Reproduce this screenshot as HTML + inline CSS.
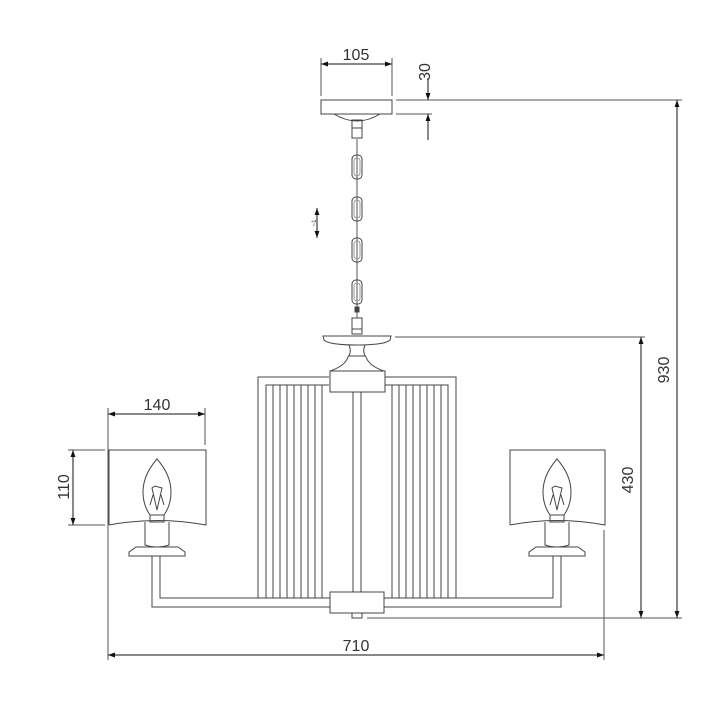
<!DOCTYPE html>
<html><head><meta charset="utf-8"><style>
html,body{margin:0;padding:0;background:#fff;}
svg{display:block;}
text{font-family:"Liberation Sans","DejaVu Sans",sans-serif;fill:#333;}
</style></head><body>
<svg width="720" height="720" viewBox="0 0 720 720" xmlns="http://www.w3.org/2000/svg">
<defs>
<marker id="a" viewBox="0 0 10 10" refX="10" refY="5" markerWidth="10" markerHeight="7" orient="auto-start-reverse" markerUnits="userSpaceOnUse"><path d="M0,1.5 L10,5 L0,8.5 Z" fill="#111"/></marker>
</defs>
<g fill="none" stroke="#555" stroke-width="1">
<line x1="321" y1="58" x2="321" y2="96"/><line x1="392" y1="58" x2="392" y2="96"/>
<line x1="321" y1="64" x2="392" y2="64" stroke="#111" marker-start="url(#a)" marker-end="url(#a)"/>
<line x1="396" y1="100" x2="682" y2="100"/>
<line x1="396" y1="114" x2="432" y2="114"/>
<line x1="428" y1="80" x2="428" y2="100" stroke="#111" marker-end="url(#a)"/>
<line x1="428" y1="140" x2="428" y2="114" stroke="#111" marker-end="url(#a)"/>
<line x1="395" y1="337" x2="645" y2="337"/>
<line x1="367" y1="618" x2="682" y2="618"/>
<line x1="677" y1="100" x2="677" y2="618" stroke="#111" marker-start="url(#a)" marker-end="url(#a)"/>
<line x1="641" y1="337" x2="641" y2="618" stroke="#111" marker-start="url(#a)" marker-end="url(#a)"/>
<line x1="108" y1="408" x2="108" y2="660"/><line x1="604" y1="530" x2="604" y2="660"/>
<line x1="205" y1="408" x2="205" y2="445"/>
<line x1="108" y1="414" x2="205" y2="414" stroke="#111" marker-start="url(#a)" marker-end="url(#a)"/>
<line x1="108" y1="655" x2="604" y2="655" stroke="#111" marker-start="url(#a)" marker-end="url(#a)"/>
<line x1="68" y1="450" x2="105" y2="450"/><line x1="68" y1="525" x2="105" y2="525"/>
<line x1="73" y1="450" x2="73" y2="525" stroke="#111" marker-start="url(#a)" marker-end="url(#a)"/>
<line x1="317" y1="208" x2="317" y2="238" stroke="#111" marker-start="url(#a)" marker-end="url(#a)"/>
</g>
<g fill="none" stroke="#444" stroke-width="1">
<rect x="321" y="100" width="71" height="14"/>
<path d="M334,114 Q357,128 380,114"/>
<rect x="352" y="120" width="10" height="8"/><rect x="352" y="128" width="10" height="10"/>
<line x1="357" y1="138" x2="357" y2="318" stroke="#aaa" stroke-width="2"/>
<rect x="352" y="155" width="10" height="24" rx="4"/><rect x="354" y="158" width="6" height="18" rx="3" stroke="#999"/>
<rect x="352" y="197" width="10" height="24" rx="4"/><rect x="354" y="200" width="6" height="18" rx="3" stroke="#999"/>
<rect x="352" y="238" width="10" height="24" rx="4"/><rect x="354" y="241" width="6" height="18" rx="3" stroke="#999"/>
<rect x="352" y="280" width="10" height="24" rx="4"/><rect x="354" y="283" width="6" height="18" rx="3" stroke="#999"/>
<rect x="355" y="307" width="4" height="5" fill="#444"/>
<rect x="352" y="318" width="10" height="11"/><rect x="352" y="329" width="10" height="5"/>
<path d="M323,336 L391,336 L390,340 Q385,345 357,345 Q329,345 324,340 Z"/>
<path d="M349,345 Q352,352 348,357 Q345,366 330,371 M365,345 Q362,352 366,357 Q369,366 384,371"/>
<line x1="349" y1="356" x2="365" y2="356"/>
<rect x="330" y="371" width="55" height="21"/>
<path d="M329,377 L258,377 L258,598 M266,598 L266,385 L329,385"/>
<path d="M385,377 L456,377 L456,598 M448,598 L448,385 L385,385"/>
<g>
<line x1="273" y1="385" x2="273" y2="598"/><line x1="280" y1="385" x2="280" y2="598"/><line x1="287" y1="385" x2="287" y2="598"/><line x1="294" y1="385" x2="294" y2="598"/><line x1="301" y1="385" x2="301" y2="598"/><line x1="308" y1="385" x2="308" y2="598"/><line x1="315" y1="385" x2="315" y2="598"/><line x1="322" y1="385" x2="322" y2="598"/>
<line x1="441" y1="385" x2="441" y2="598"/><line x1="434" y1="385" x2="434" y2="598"/><line x1="427" y1="385" x2="427" y2="598"/><line x1="420" y1="385" x2="420" y2="598"/><line x1="413" y1="385" x2="413" y2="598"/><line x1="406" y1="385" x2="406" y2="598"/><line x1="399" y1="385" x2="399" y2="598"/><line x1="392" y1="385" x2="392" y2="598"/>
</g>
<rect x="353" y="392" width="8" height="200"/>
<rect x="330" y="592" width="54" height="21"/>
<rect x="352" y="613" width="10" height="5"/>
<path d="M330,598 L160,598 L160,556 M152,556 L152,607 L330,607"/>
<path d="M384,598 L553,598 L553,556 M561,556 L561,607 L384,607"/>
<path d="M109,525 L109,450 L206,450 L206,525 Q157,516 109,525"/>
<path d="M157,459 Q143,475 143,492 Q143,505 150,515 L164,515 Q171,505 171,492 Q171,475 157,459 Z"/>
<path d="M152,488 L157,510 L162,488 L155,486 Z M150,505 L153,495 M164,505 L161,495"/>
<rect x="150" y="515" width="14" height="7"/>
<path d="M145,522 L145,545 Q157,549 169,545 L169,522"/>
<path d="M129,552 L136,547 L178,547 L185,552 L185,556 L129,556 Z"/>
<path d="M510,525 L510,450 L605,450 L605,525 Q557,516 510,525"/>
<path d="M557,459 Q543,475 543,492 Q543,505 550,515 L564,515 Q571,505 571,492 Q571,475 557,459 Z"/>
<path d="M552,488 L557,510 L562,488 L555,486 Z M550,505 L553,495 M564,505 L561,495"/>
<rect x="550" y="515" width="14" height="7"/>
<path d="M545,522 L545,545 Q557,549 569,545 L569,522"/>
<path d="M529,552 L536,547 L578,547 L585,552 L585,556 L529,556 Z"/>
</g>
<g font-size="16">
<text x="356" y="60" text-anchor="middle">105</text>
<text x="157" y="410" text-anchor="middle">140</text>
<text x="356" y="651" text-anchor="middle">710</text>
<text transform="translate(430,72) rotate(-90)" text-anchor="middle">30</text>
<text transform="translate(669,370) rotate(-90)" text-anchor="middle">930</text>
<text transform="translate(633,480) rotate(-90)" text-anchor="middle">430</text>
<text transform="translate(69,487) rotate(-90)" text-anchor="middle">110</text>
<text transform="translate(316,223) rotate(-90)" text-anchor="middle" font-size="6">~1</text>
</g>
</svg>
</body></html>
